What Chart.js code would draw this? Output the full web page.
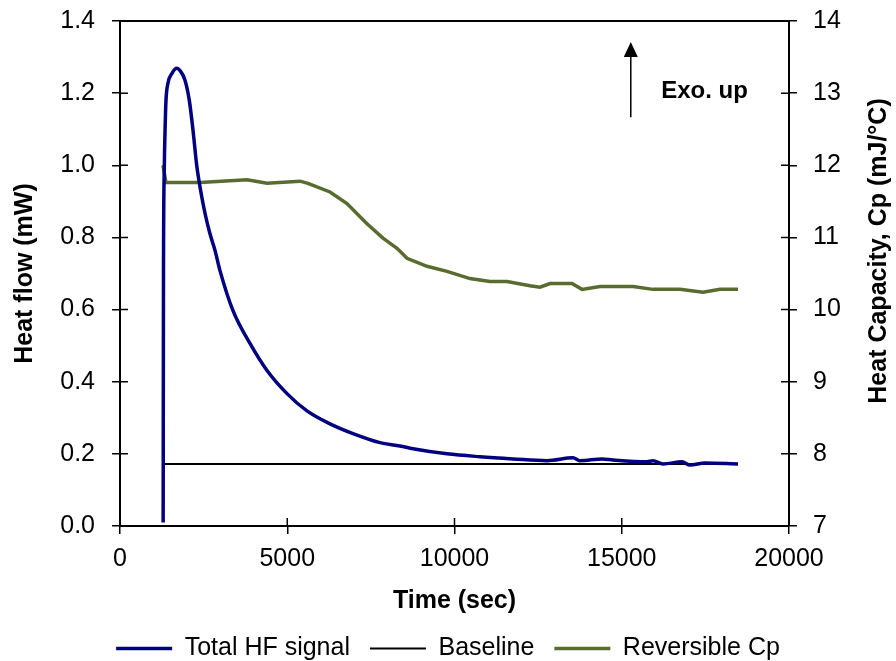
<!DOCTYPE html>
<html>
<head>
<meta charset="utf-8">
<script src="https://cdn.jsdelivr.net/npm/chart.js@4.4.1/dist/chart.umd.min.js"></script>
<style>
  html, body { margin: 0; padding: 0; background: #fff; }
  #wrap { width: 896px; height: 661px; }
</style>
</head>
<body>
<div id="wrap"><canvas id="chart" width="896" height="661"></canvas></div>
<script>
// Total heat flow signal (mW) vs time (sec)
const hfTime = [1290, 1294, 1300, 1324, 1345, 1375, 1435, 1555, 1695, 1800, 1943, 2072, 2192, 2293, 2392, 2541, 2690, 2840, 2989, 3378, 3886, 4395, 4993, 5590, 6278, 6966, 7773, 8371, 8759, 9776, 10762, 11749, 12765, 13543, 13752, 14410, 14738, 15755, 15934, 16233, 16801, 17040, 17489, 18475];
const hfValue = [0.01, 0.3, 0.7, 0.99, 1.089, 1.18, 1.228, 1.255, 1.269, 1.262, 1.236, 1.18, 1.089, 1.0, 0.94, 0.867, 0.81, 0.764, 0.708, 0.597, 0.506, 0.431, 0.367, 0.319, 0.283, 0.256, 0.231, 0.222, 0.214, 0.2, 0.192, 0.186, 0.181, 0.189, 0.181, 0.186, 0.183, 0.178, 0.181, 0.172, 0.178, 0.169, 0.175, 0.172];

// baseline (mW)
const baseTime = [1290, 18475];
const baseValue = [0.172, 0.172];

// reversible heat capacity (mJ/°C), right axis
const cpTime = [1285, 1375, 2392, 3797, 4395, 5381, 5620, 6278, 6786, 7384, 7862, 8281, 8580, 9178, 9776, 10463, 11061, 11570, 12257, 12556, 12855, 13513, 13812, 14350, 15336, 15934, 16741, 17429, 17937, 18475];
const cpValue = [12.0, 11.76, 11.76, 11.8, 11.75, 11.78, 11.75, 11.63, 11.47, 11.19, 10.99, 10.85, 10.71, 10.6, 10.53, 10.43, 10.39, 10.39, 10.33, 10.31, 10.36, 10.36, 10.28, 10.32, 10.32, 10.28, 10.28, 10.24, 10.28, 10.28];

// tick values
const xTicks = [0, 5000, 10000, 15000, 20000];
const hfTicks = [0, 0.2, 0.4, 0.6, 0.8, 1.0, 1.2, 1.4];
const cpTicks = [7, 8, 9, 10, 11, 12, 13, 14];

// "Exo. up" note, in data units (x: sec, y: mW)
const arrowX = 15270;
const arrowTop = 1.342;
const arrowBottom = 1.133;
const noteX = 16180;
const noteY = 1.186;

const toPoints = (xs, ys) => xs.map((x, i) => ({ x: x, y: ys[i] }));

Chart.defaults.font.family = '"Liberation Sans", Arial, sans-serif';
Chart.defaults.font.size = 25;
Chart.defaults.color = '#000';

// ticks crossing the axes + top frame line
const frameTicks = {
    id: 'frameTicks',
    afterDraw(chart) {
        const { ctx, chartArea: a, scales } = chart;
        ctx.save();
        ctx.strokeStyle = '#000';
        ctx.lineWidth = 1.5;
        ctx.beginPath();
        scales.x.ticks.forEach(t => {
            const px = scales.x.getPixelForValue(t.value);
            ctx.moveTo(px, a.bottom);
            ctx.lineTo(px, a.bottom - 8);
        });
        scales.y.ticks.forEach(t => {
            const py = scales.y.getPixelForValue(t.value);
            ctx.moveTo(a.left, py);
            ctx.lineTo(a.left + 8, py);
        });
        scales.y1.ticks.forEach(t => {
            const py = scales.y1.getPixelForValue(t.value);
            ctx.moveTo(a.right, py);
            ctx.lineTo(a.right - 8, py);
        });
        ctx.stroke();
        ctx.lineWidth = 2;
        ctx.beginPath();
        ctx.moveTo(a.left, a.top);
        ctx.lineTo(a.right, a.top);
        ctx.stroke();
        ctx.restore();
    }
};

// arrow with "Exo. up" and right axis title (reads bottom to top)
const notes = {
    id: 'notes',
    afterDraw(chart) {
        const { ctx, scales: { x, y } } = chart;
        const ax = x.getPixelForValue(arrowX);
        const yTop = y.getPixelForValue(arrowTop);
        const yBot = y.getPixelForValue(arrowBottom);
        ctx.save();
        ctx.strokeStyle = '#000';
        ctx.fillStyle = '#000';
        ctx.lineWidth = 1.5;
        ctx.beginPath();
        ctx.moveTo(ax, yBot);
        ctx.lineTo(ax, yTop + 12);
        ctx.stroke();
        ctx.beginPath();
        ctx.moveTo(ax, yTop);
        ctx.lineTo(ax - 7, yTop + 15);
        ctx.lineTo(ax + 7, yTop + 15);
        ctx.closePath();
        ctx.fill();

        ctx.font = 'bold 24px "Liberation Sans", Arial, sans-serif';
        ctx.textAlign = 'left';
        ctx.textBaseline = 'alphabetic';
        ctx.fillText('Exo. up', x.getPixelForValue(noteX), y.getPixelForValue(noteY));

        ctx.translate(chart.width - 17, chart.chartArea.top + 230);
        ctx.rotate(-Math.PI / 2);
        ctx.font = 'bold 25px "Liberation Sans", Arial, sans-serif';
        ctx.textAlign = 'center';
        ctx.textBaseline = 'middle';
        ctx.fillText('Heat Capacity, Cp (mJ/°C)', 0, 0);
        ctx.restore();
    }
};

const fitY = w => s => {
    s.width = w;
    s.paddingTop = 0;
    s.paddingBottom = 0;
};

new Chart(document.getElementById('chart'), {
    type: 'line',
    data: {
        datasets: [
            {
                label: 'Total HF signal',
                data: toPoints(hfTime, hfValue),
                borderColor: '#000080',
                backgroundColor: '#000080',
                borderWidth: 3.5,
                pointRadius: 0,
                pointStyle: 'line',
                cubicInterpolationMode: 'monotone',
                yAxisID: 'y'
            },
            {
                label: 'Baseline',
                data: toPoints(baseTime, baseValue),
                borderColor: '#000',
                backgroundColor: '#000',
                borderWidth: 2,
                pointRadius: 0,
                pointStyle: 'line',
                yAxisID: 'y'
            },
            {
                label: 'Reversible Cp',
                data: toPoints(cpTime, cpValue),
                borderColor: '#586c30',
                backgroundColor: '#586c30',
                borderWidth: 3.5,
                pointRadius: 0,
                pointStyle: 'line',
                yAxisID: 'y1'
            }
        ]
    },
    options: {
        responsive: false,
        animation: false,
        devicePixelRatio: 1,
        layout: { padding: { top: 21, left: 0, right: 0, bottom: -10 } },
        plugins: {
            tooltip: { enabled: false },
            legend: {
                position: 'bottom',
                labels: {
                    usePointStyle: true,
                    pointStyleWidth: 56,
                    boxHeight: 25,
                    padding: 20,
                    font: { size: 25 },
                    color: '#000'
                }
            }
        },
        scales: {
            x: {
                type: 'linear',
                min: 0,
                max: 20000,
                afterBuildTicks: s => { s.ticks = xTicks.map(v => ({ value: v })); },
                afterFit: s => { s.height = 90; s.paddingLeft = 0; s.paddingRight = 0; },
                ticks: { padding: 10, callback: v => String(v), maxRotation: 0 },
                grid: { drawOnChartArea: false, drawTicks: true, tickLength: 8, color: '#000', lineWidth: 1.5 },
                border: { color: '#000', width: 2 },
                title: { display: true, text: 'Time (sec)', font: { size: 25, weight: 'bold' }, padding: { top: 0, bottom: 0 } }
            },
            y: {
                position: 'left',
                min: 0,
                max: 1.4,
                afterBuildTicks: s => { s.ticks = hfTicks.map(v => ({ value: v })); },
                afterFit: fitY(120),
                ticks: { padding: 17, callback: v => v.toFixed(1) },
                grid: { drawOnChartArea: false, drawTicks: true, tickLength: 8, color: '#000', lineWidth: 1.5 },
                border: { color: '#000', width: 2 },
                title: { display: true, text: 'Heat flow (mW)', font: { size: 25, weight: 'bold' }, padding: { top: 10, bottom: 0 } }
            },
            y1: {
                position: 'right',
                min: 7,
                max: 14,
                afterBuildTicks: s => { s.ticks = cpTicks.map(v => ({ value: v })); },
                afterFit: fitY(107),
                ticks: { padding: 16, callback: v => String(v) },
                grid: { drawOnChartArea: false, drawTicks: true, tickLength: 8, color: '#000', lineWidth: 1.5 },
                border: { color: '#000', width: 2 }
            }
        }
    },
    plugins: [frameTicks, notes]
});
</script>
</body>
</html>
